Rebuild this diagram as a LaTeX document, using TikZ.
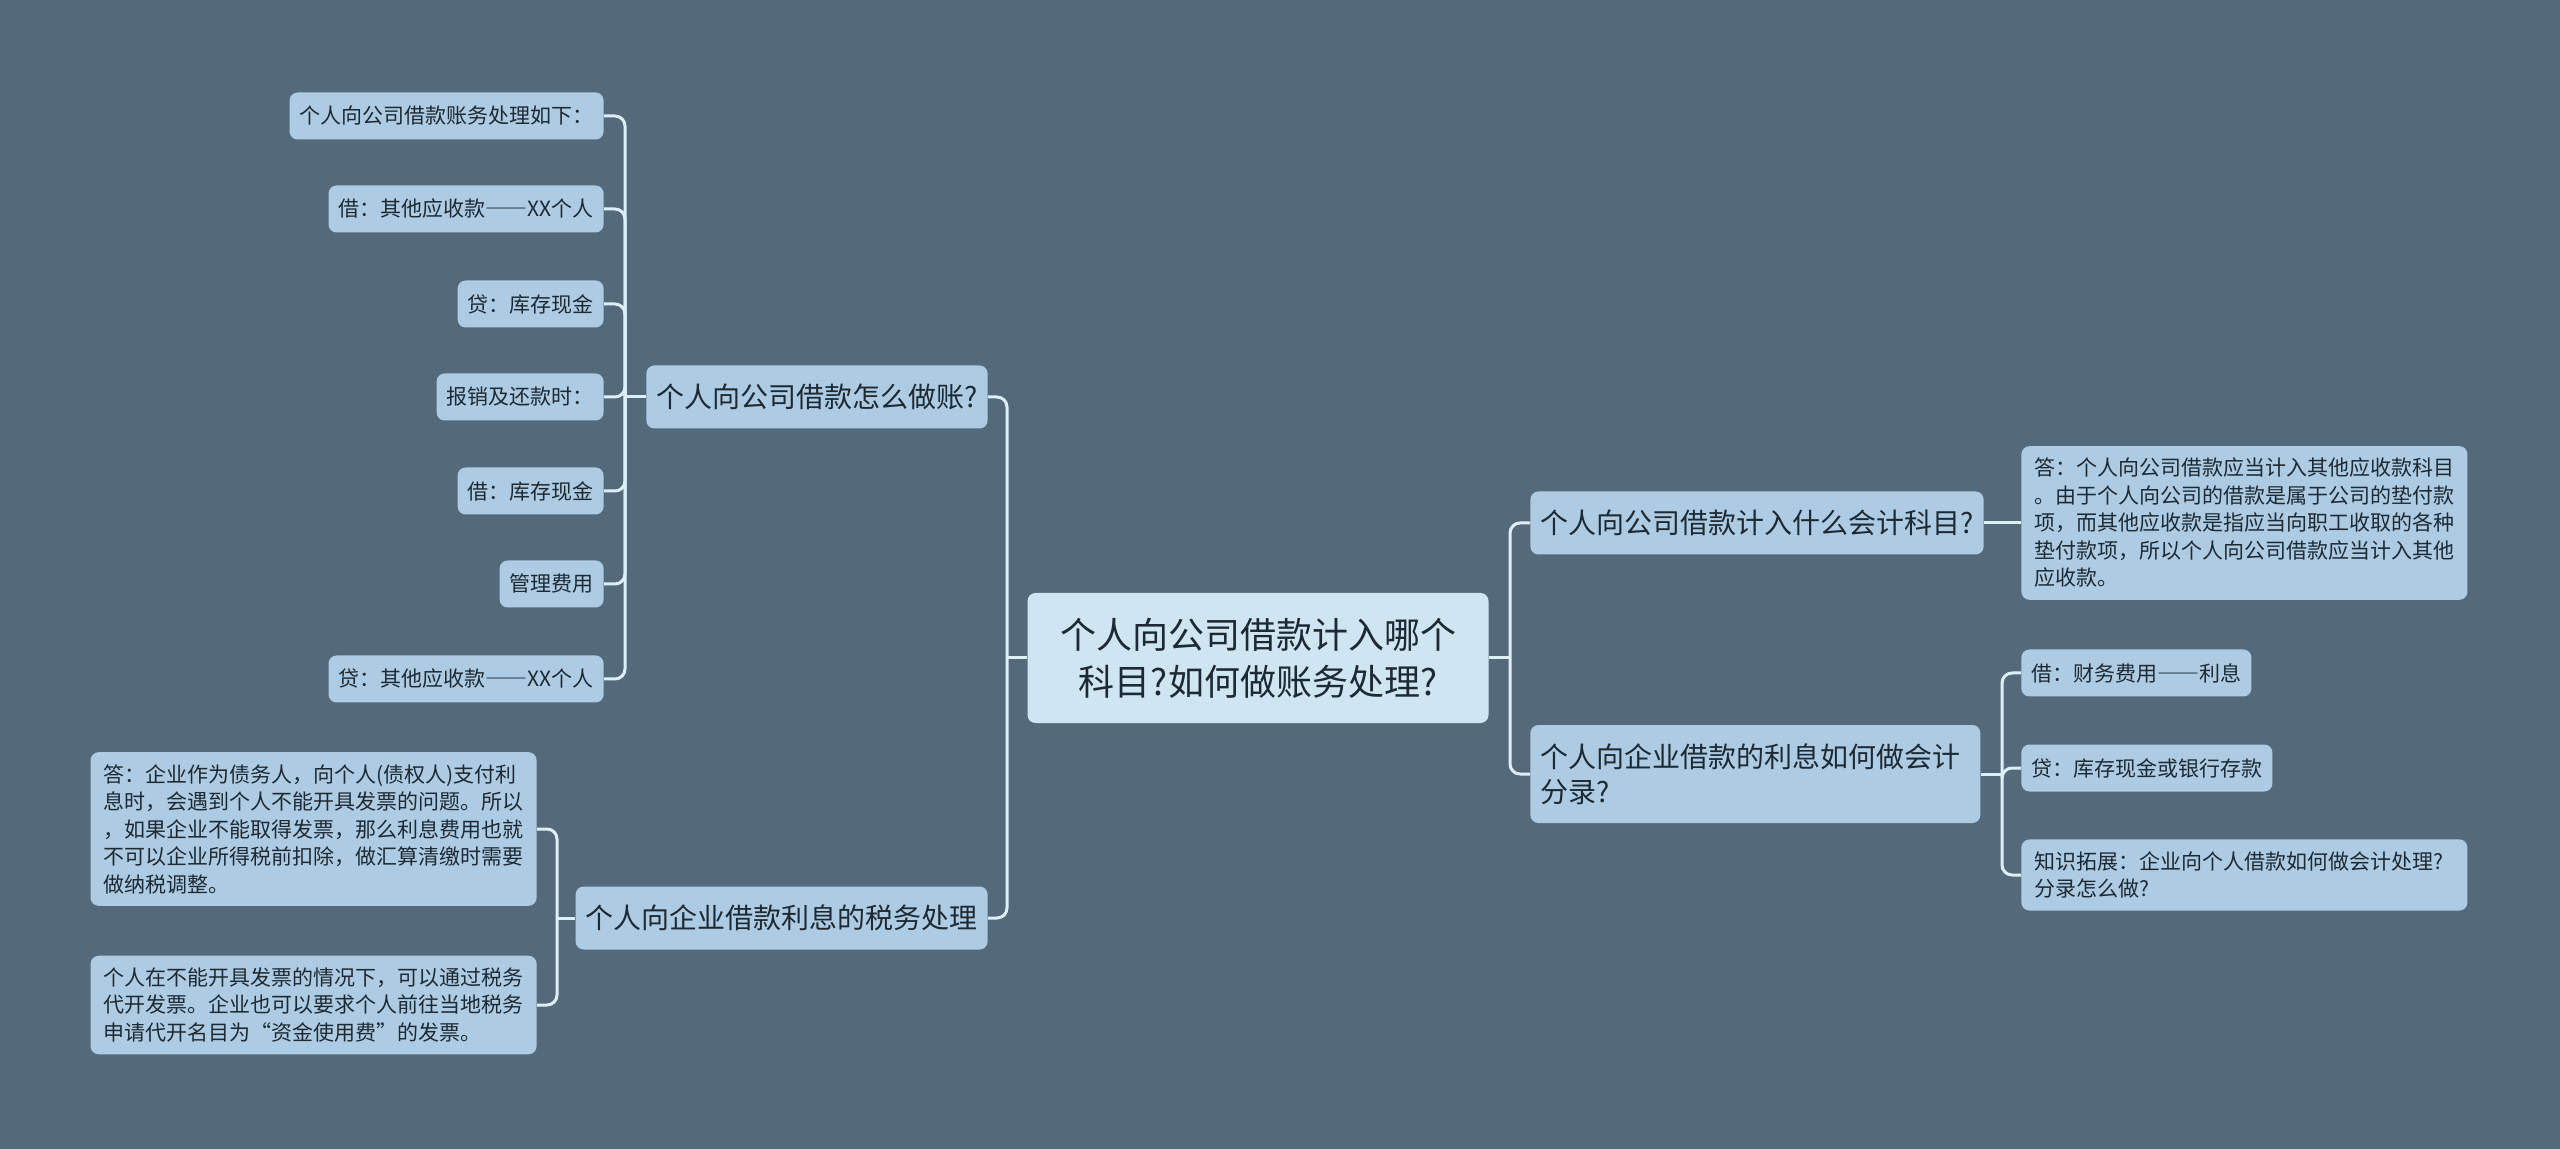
\documentclass[tikz,border=0pt]{standalone}
\usepackage{fontspec}
\setmainfont{Noto Sans CJK SC}
\usetikzlibrary{calc,positioning}
\definecolor{bgcol}{HTML}{546A7B}
\definecolor{boxcol}{HTML}{ADCBE3}
\definecolor{rootcol}{HTML}{CFE6F2}
\definecolor{linecol}{HTML}{DDEFF8}
\definecolor{txtcol}{HTML}{1E2A33}
% full width double dash
\newcommand{\ddash}{{\addfontfeatures{RawFeature=+fwid}——}}

\begin{document}
\begin{tikzpicture}[x=0.5pt,y=-0.5pt,
  box/.style={fill=boxcol,rounded corners=4pt,text=txtcol,inner ysep=0pt,inner xsep=5pt},
  leaf/.style={box,font=\fontsize{10.5pt}{13.75pt}\selectfont,minimum height=23.5pt},
  para/.style={leaf,text width=210pt,align=left,inner xsep=6.5pt,inner ysep=6pt},
  topic/.style={box,font=\fontsize{14pt}{17.5pt}\selectfont,minimum height=31.5pt},
  link/.style={draw=linecol,line width=1.5pt,rounded corners=5pt}]
  % canvas
  \fill[bgcol] (0,0) rectangle (2560,1149);
  \useasboundingbox (0,0) rectangle (2560,1149);

  % --- root ---
  \node[box,fill=rootcol,font=\fontsize{18pt}{23.5pt}\selectfont,text width=200pt,
    align=center,inner xsep=15.25pt,minimum height=65pt] (root) at (1258,658)
    {个人向公司借款计入哪个\\科目?如何做账务处理?};

  % --- left topics ---
  \node[topic,anchor=east] (acct) at (988,397) {个人向公司借款怎么做账?};
  \node[topic,anchor=east] (tax) at (988,918) {个人向企业借款利息的税务处理};

  % --- right topics ---
  \node[topic,anchor=west] (subj) at (1530,523) {个人向公司借款计入什么会计科目?};
  \node[topic,anchor=west,text width=215pt,align=left,minimum height=49pt] (entry) at (1530,774)
    {个人向企业借款的利息如何做会计\\分录?};

  % --- bookkeeping steps ---
  \node[leaf,anchor=east] (a1) at (604,116) {个人向公司借款账务处理如下：};
  \node[leaf,anchor=east] (a2) at (604,209) {借：其他应收款\ddash XX个人};
  \node[leaf,anchor=east] (a3) at (604,304) {贷：库存现金};
  \node[leaf,anchor=east] (a4) at (604,397) {报销及还款时：};
  \node[leaf,anchor=east] (a5) at (604,491) {借：库存现金};
  \node[leaf,anchor=east] (a6) at (604,584) {管理费用};
  \node[leaf,anchor=east] (a7) at (604,679) {贷：其他应收款\ddash XX个人};

  % --- tax notes ---
  \node[para,anchor=east] (t1) at (537,829) {答：企业作为债务人，向个人(债权人)支付利\\
    息时，会遇到个人不能开具发票的问题。所以\\，如果企业不能取得发票，那么利息费用也就\\
    不可以企业所得税前扣除，做汇算清缴时需要\\做纳税调整。};
  \node[para,anchor=east] (t2) at (537,1005) {个人在不能开具发票的情况下，可以通过税务\\
    代开发票。企业也可以要求个人前往当地税务\\申请代开名目为“资金使用费”的发票。};

  % --- subject answer ---
  \node[para,anchor=west] (s1) at (2021,523) {答：个人向公司借款应当计入其他应收款科目\\
    。由于个人向公司的借款是属于公司的垫付款\\项，而其他应收款是指应当向职工收取的各种\\
    垫付款项，所以个人向公司借款应当计入其他\\应收款。};

  % --- interest entry ---
  \node[leaf,anchor=west] (e1) at (2021,673) {借：财务费用\ddash 利息};
  \node[leaf,anchor=west] (e2) at (2021,768) {贷：库存现金或银行存款};
  \node[para,anchor=west] (e3) at (2021,875) {知识拓展：企业向个人借款如何做会计处理?\\分录怎么做?};

  % junctions
  \coordinate (jl) at (1007,658);
  \coordinate (jr) at (1510,658);
  \coordinate (ja) at (625,397);
  \coordinate (jt) at (557,918);
  \coordinate (je) at (2002,774);

  % links
  \draw[link] (root.west) -- (jl);
  \draw[link] (root.east) -- (jr);
  \foreach \n in {acct,tax} \draw[link] (jl) |- (\n.east);
  \foreach \n in {subj,entry} \draw[link] (jr) |- (\n.west);
  \draw[link] (acct.west) -- (ja);
  \foreach \n in {a1,a2,a3,a4,a5,a6,a7} \draw[link] (ja) |- (\n.east);
  \draw[link] (tax.west) -- (jt);
  \foreach \n in {t1,t2} \draw[link] (jt) |- (\n.east);
  \draw[link] (subj.east) -- (s1.west);
  \draw[link] (entry.east) -- (je);
  \foreach \n in {e1,e2,e3} \draw[link] (je) |- (\n.west);
\end{tikzpicture}
\end{document}
